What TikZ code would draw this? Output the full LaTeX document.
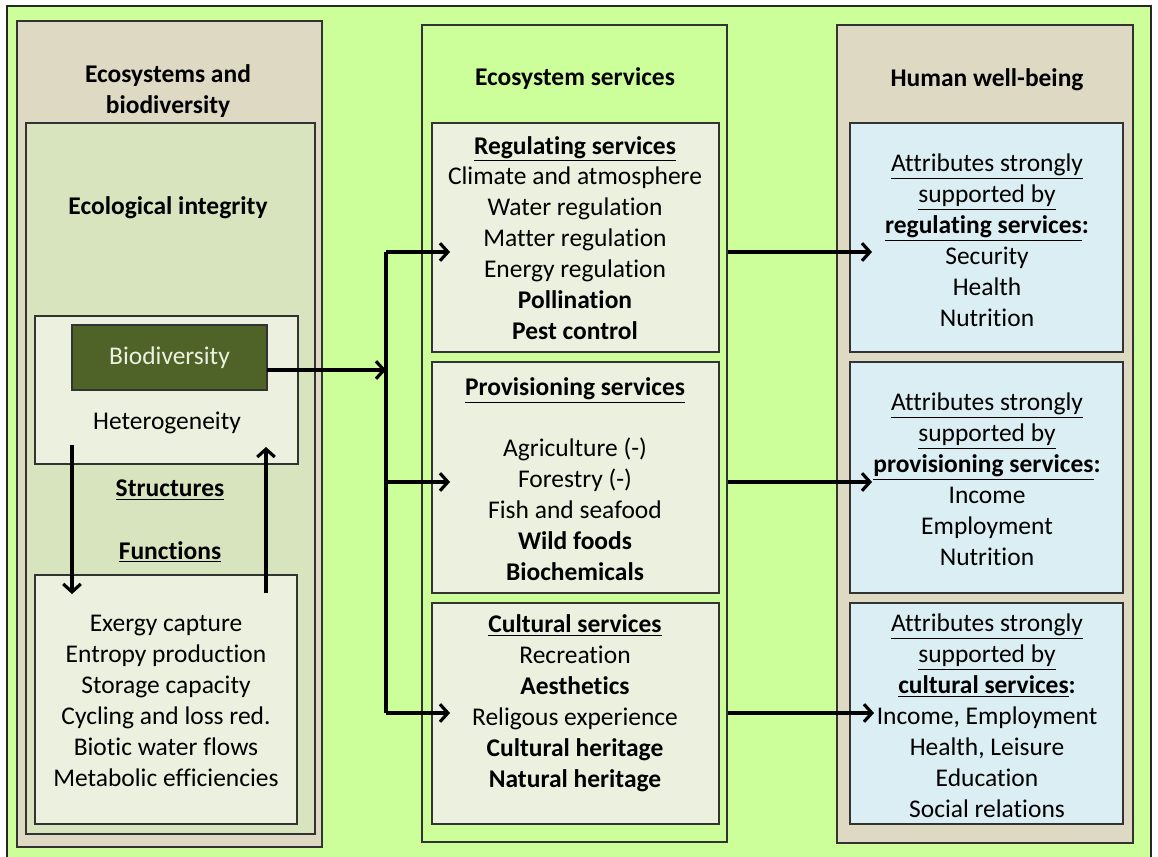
\documentclass[tikz,border=0pt]{standalone}
\usepackage{fontspec}
\setmainfont[Ligatures=NoCommon]{Carlito}
\usetikzlibrary{arrows.meta,fit}

\definecolor{leaf}{HTML}{CCFF99}
\definecolor{tanbox}{HTML}{DDD9C3}
\definecolor{integ}{HTML}{D7E4BD}
\definecolor{pale}{HTML}{EBF1DE}
\definecolor{olive}{HTML}{4F6228}
\definecolor{sky}{HTML}{DBEEF4}

\tikzset{
  panel/.style={draw=black!80, line width=1.1pt, inner sep=0pt},
  flow/.style={line width=1.8pt, -{Straight Barb[length=4.5pt,width=10pt]}},
  trunk/.style={line width=1.8pt}
}

\begin{document}
\begin{tikzpicture}[x=0.02cm,y=-0.02cm]
  \useasboundingbox (0,0) rectangle (1158,857);
  \draw[line width=1.3pt, draw=black!85, fill=leaf] (7,6) rectangle (1151,890);

  % frames
  \begin{scope}[every node/.style={panel}]
    \node[fill=tanbox, fit={(17,21) (322,847)}]   (eco) {};
    \node[fill=integ,  fit={(26,123) (315,834)}]  (integ) {};
    \node[fill=pale,   fit={(35,316) (298,464)}]  (struct) {};
    \node[fill=pale,   fit={(35,575) (297,824)}]  (func) {};
    \node[fill=olive, line width=1.6pt, fit={(72,325) (267,390)}] (bio) {};
    \node[fill=leaf,   fit={(422,25) (727,842)}]  (svc) {};
    \node[fill=pale,   fit={(432,123) (719,352)}] (reg) {};
    \node[fill=pale,   fit={(432,362) (719,593)}] (prov) {};
    \node[fill=pale,   fit={(432,603) (719,824)}] (cult) {};
    \node[fill=tanbox, fit={(837,25) (1133,843)}] (hwb) {};
    \node[fill=sky,    fit={(850,123) (1123,352)}] (hreg) {};
    \node[fill=sky,    fit={(850,362) (1123,593)}] (hprov) {};
    \node[fill=sky,    fit={(850,603) (1123,824)}] (hcult) {};
  \end{scope}

  % texts
  \begin{scope}[every node/.style={font=\fontsize{14.5}{17.6}\selectfont, align=center, inner sep=0pt}]
    \node (t1) at (168,91)  {\textbf{Ecosystems and}\\\textbf{biodiversity}};
    \node (t2) at (168,208) {\textbf{Ecological integrity}};
    \node[text=pale] (t3) at (bio) {Biodiversity};
    \node (t4) at (167,423) {Heterogeneity};
    \node (t5) at (170,490) {\underline{\textbf{Structures}}};
    \node (t6) at (170,552) {\underline{\textbf{Functions}}};
    \node (t7) at (166,701) {Exergy capture\\Entropy production\\Storage capacity\\Cycling and loss red.\\Biotic water flows\\Metabolic efficiencies};

    \node (t8) at (575,79) {\textbf{Ecosystem services}};
    \node (t9) at (575,238) {\underline{\textbf{Regulating services}}\\Climate and atmosphere\\Water regulation\\Matter regulation\\Energy regulation\\\textbf{Pollination}\\\textbf{Pest control}};
    \node (t10) at (575,479) {\underline{\textbf{Provisioning services}}\\[17.6pt]Agriculture (-)\\Forestry (-)\\Fish and seafood\\\textbf{Wild foods}\\\textbf{Biochemicals}};
    \node (t11) at (575,703) {\underline{\textbf{Cultural services}}\\Recreation\\\textbf{Aesthetics}\\Religous experience\\\textbf{Cultural heritage}\\\textbf{Natural heritage}};

    \node (t12) at (987,80) {\textbf{Human well-being}};
    \node (t13) at (987,240) {\underline{Attributes strongly}\\\underline{supported by}\\\underline{\textbf{regulating services}}\textbf{:}\\Security\\Health\\Nutrition};
    \node (t14) at (987,479) {\underline{Attributes strongly}\\\underline{supported by}\\\underline{\textbf{provisioning services}}\textbf{:}\\Income\\Employment\\Nutrition};
    \node (t15) at (987,716) {\underline{Attributes strongly}\\\underline{supported by}\\\underline{\textbf{cultural services}}\textbf{:}\\Income, Employment\\Health, Leisure\\Education\\Social relations};
  \end{scope}

  % arrows
  \coordinate (bout) at (267,370);
  \coordinate (jt) at (386,252);
  \coordinate (jb) at (386,713);
  \coordinate (regin) at (450,252);
  \coordinate (provin) at (450,482);
  \coordinate (cultin) at (450,713);
  \coordinate (hregin) at (872,252);
  \coordinate (hprovin) at (872,482);
  \coordinate (hcultin) at (874,713);
  \coordinate (dtop) at (72,445);
  \coordinate (dbot) at (72,594);
  \coordinate (ubot) at (266,593);
  \coordinate (utop) at (266,447);

  \draw[trunk] (jt) -- (jb);
  \draw[flow] (bout) -- (jt |- bout);
  \draw[flow] (jt) -- (regin);
  \draw[flow] (jt |- provin) -- (provin);
  \draw[flow] (jb) -- (cultin);
  \draw[flow] (svc.east |- hregin) -- (hregin);
  \draw[flow] (svc.east |- hprovin) -- (hprovin);
  \draw[flow] (svc.east |- hcultin) -- (hcultin);
  \draw[flow] (dtop) -- (dbot);
  \draw[flow] (ubot) -- (utop);
\end{tikzpicture}
\end{document}
